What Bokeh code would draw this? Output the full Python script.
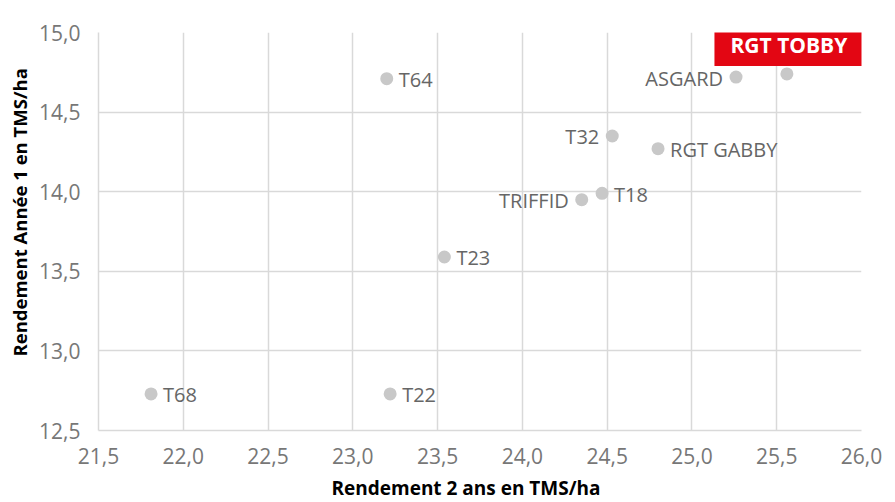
from bokeh.plotting import figure
from bokeh.models import FixedTicker, CustomJSTickFormatter, Label, Range1d, Title
from bokeh.embed import file_html
from bokeh.resources import INLINE

names = ["T64", "ASGARD", "T32", "RGT GABBY", "T18", "TRIFFID", "T23", "T68", "T22"]
rend_2ans = [23.20, 25.26, 24.53, 24.80, 24.47, 24.35, 23.54, 21.81, 23.22]
rend_an1 = [14.71, 14.72, 14.35, 14.27, 13.99, 13.95, 13.59, 12.73, 12.73]
label_side = ["right", "left", "left", "right", "right", "left", "right", "right", "right"]

highlight_name = "RGT TOBBY"
highlight_x = 25.56
highlight_y = 14.74

x_ticks = [21.5, 22.0, 22.5, 23.0, 23.5, 24.0, 24.5, 25.0, 25.5, 26.0]
y_ticks = [12.5, 13.0, 13.5, 14.0, 14.5, 15.0]

x_title = "Rendement 2 ans en TMS/ha"
y_title = "Rendement Année 1 en TMS/ha"

FONT = "Open Sans"
GRID = "#d9d9d9"

p = figure(width=887, height=494, output_backend="svg", toolbar_location=None,
           x_range=Range1d(21.5, 26.0), y_range=Range1d(12.5, 15.0),
           min_border_left=97, min_border_top=32, min_border_right=27, min_border_bottom=64)
p.frame_width = 763
p.frame_height = 398
p.outline_line_color = None
p.background_fill_color = "white"

fmt = CustomJSTickFormatter(code="return tick.toFixed(1).replace('.', ',');")
for ax, ticks in ((p.xaxis[0], x_ticks), (p.yaxis[0], y_ticks)):
    ax.ticker = FixedTicker(ticks=ticks)
    ax.formatter = fmt
    ax.axis_line_color = GRID
    ax.axis_line_width = 1.5
    ax.major_tick_line_color = None
    ax.minor_tick_line_color = None
    ax.major_label_text_font = FONT
    ax.major_label_text_font_size = "21px"
    ax.major_label_text_color = "#777777"

p.xaxis.major_label_standoff = 11
p.yaxis.major_label_standoff = 12

for txt, loc, off, sto, fs in ((x_title, "below", 233, 13, "19px"), (y_title, "left", 74, 9, "18.5px")):
    p.add_layout(Title(text=txt, align="left", offset=off, standoff=sto,
                       text_font=FONT, text_font_size=fs, text_font_style="bold",
                       text_color="#000000"), loc)

p.xgrid.ticker = FixedTicker(ticks=x_ticks)
p.ygrid.ticker = FixedTicker(ticks=y_ticks)
p.xgrid.grid_line_color = GRID
p.ygrid.grid_line_color = GRID
p.xgrid.grid_line_width = 1.5
p.ygrid.grid_line_width = 1.5

p.scatter(x=[highlight_x], y=[highlight_y], size=13, color="#c8c8c8", line_color=None)
p.scatter(x=rend_2ans, y=rend_an1, size=13, color="#c8c8c8", line_color=None)

for nm, xv, yv, side in zip(names, rend_2ans, rend_an1, label_side):
    right = side == "right"
    p.add_layout(Label(x=xv, y=yv, text=nm, x_offset=12 if right else -13,
                       y_offset=-1, anchor="center_left" if right else "center_right",
                       text_font=FONT, text_font_size="20px", text_color="#666666"))

lab = Label(x=highlight_x, y=highlight_y, text=highlight_name, x_offset=2, y_offset=29,
            anchor="center", text_font=FONT,
            text_font_size="21px", text_font_style="bold", text_color="white",
            background_fill_color="#e30613", padding=(16, 7))
p.add_layout(lab)

open("out.html", "w").write(file_html(p, INLINE))
